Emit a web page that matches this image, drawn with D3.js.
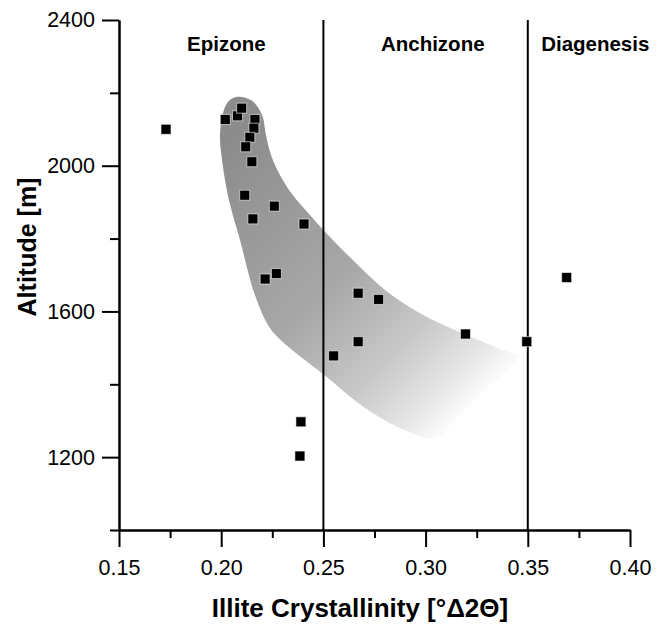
<!DOCTYPE html>
<html>
<head>
<meta charset="utf-8">
<script src="https://cdn.jsdelivr.net/npm/d3@7"></script>
<style>
  body { margin: 0; background: #fff; }
  svg { display: block; font-family: "Liberation Sans", Arial, sans-serif; }
  .axis path, .axis line { stroke: #000; stroke-width: 2; }
  .axis text { font-size: 21.5px; fill: #000; }
  .zone-label { font-size: 20.5px; font-weight: bold; }
  .axis-title { font-weight: bold; }
</style>
</head>
<body>
<div id="chart"></div>
<script>
// Illite crystallinity vs altitude

// sample values: crystallinity [°Δ2Θ] and altitude [m]
const crystallinity = [0.173, 0.202, 0.208, 0.210, 0.2165, 0.216, 0.214, 0.212, 0.215,
    0.2115, 0.226, 0.2155, 0.2405, 0.227, 0.2215, 0.267, 0.277, 0.3195, 0.3495,
    0.267, 0.255, 0.369, 0.239, 0.2385];
const altitude = [2100, 2127, 2137, 2158, 2127, 2103, 2078, 2052, 2011,
    1919, 1889, 1854, 1840, 1704, 1689, 1650, 1633, 1538, 1517,
    1517, 1478, 1693, 1297, 1203];

// shaded trend envelope outline (clockwise from the top)
const envelopeX = [0.2077, 0.2151, 0.2200, 0.2219, 0.2244, 0.2288, 0.2351, 0.2434, 0.2532,
    0.2655, 0.2801, 0.2973, 0.3168, 0.3364, 0.3447, 0.3300, 0.3154, 0.3046, 0.2899,
    0.2704, 0.2498, 0.2337, 0.2239, 0.2165, 0.2092, 0.2038, 0.2004, 0.1994, 0.2009, 0.2033];
const envelopeY = [2189, 2178, 2139, 2084, 2029, 1974, 1919, 1865, 1804,
    1735, 1659, 1595, 1543, 1497, 1475, 1389, 1307, 1252, 1274,
    1335, 1428, 1499, 1554, 1645, 1796, 1906, 2016, 2084, 2145, 2175];

// zone boundaries and names
const boundaries = [0.25, 0.35];
const zoneNames = ["Epizone", "Anchizone", "Diagenesis"];
const zoneCenters = [0.2025, 0.3035, 0.383];

// ticks
const xMajorTicks = [0.15, 0.20, 0.25, 0.30, 0.35, 0.40];
const xMinorTicks = [0.175, 0.225, 0.275, 0.325, 0.375];
const yMajorTicks = [1200, 1600, 2000, 2400];
const yMinorTicks = [1000, 1400, 1800, 2200];

const width = 669;
const height = 625;
const margin = { top: 20, right: 39, bottom: 95, left: 119 };

const svg = d3.select("#chart").append("svg")
    .attr("width", width)
    .attr("height", height);

const x = d3.scaleLinear()
    .domain([0.15, 0.40])
    .range([margin.left, width - margin.right]);

const y = d3.scaleLinear()
    .domain([1000, 2400])
    .range([height - margin.bottom, margin.top]);

// gradient for the envelope, fading out towards the lower right
const defs = svg.append("defs");
const grad = defs.append("linearGradient")
    .attr("id", "envGrad")
    .attr("gradientUnits", "userSpaceOnUse")
    .attr("x1", x(0.2043)).attr("y1", y(2070))
    .attr("x2", x(0.3276)).attr("y2", y(1378));
grad.append("stop").attr("offset", "0%").attr("stop-color", "#8c8c8c");
grad.append("stop").attr("offset", "50%").attr("stop-color", "#a8a8a8");
grad.append("stop").attr("offset", "75%").attr("stop-color", "#c8c8c8");
grad.append("stop").attr("offset", "90%").attr("stop-color", "#e4e4e4");
grad.append("stop").attr("offset", "100%").attr("stop-color", "#fbfbfb");

const envelope = envelopeX.map((v, i) => [v, envelopeY[i]]);
svg.append("path")
    .datum(envelope)
    .attr("fill", "url(#envGrad)")
    .attr("d", d3.line()
        .x(d => x(d[0]))
        .y(d => y(d[1]))
        .curve(d3.curveCatmullRomClosed.alpha(0.5)));

// zone boundary lines
svg.selectAll(".boundary")
    .data(boundaries)
    .enter()
    .append("line")
    .attr("class", "boundary")
    .attr("x1", d => x(d)).attr("x2", d => x(d))
    .attr("y1", y(2400)).attr("y2", y(1000))
    .attr("stroke", "#000")
    .attr("stroke-width", 2);

// zone labels
svg.selectAll(".zone-label")
    .data(zoneNames)
    .enter()
    .append("text")
    .attr("class", "zone-label")
    .attr("x", (d, i) => x(zoneCenters[i]))
    .attr("y", margin.top + 31)
    .attr("text-anchor", "middle")
    .text(d => d);

// axes
svg.append("g")
    .attr("class", "axis")
    .attr("transform", `translate(${margin.left},0)`)
    .call(d3.axisLeft(y).tickValues(yMinorTicks).tickSize(9).tickSizeOuter(0).tickFormat(""));

svg.append("g")
    .attr("class", "axis")
    .attr("transform", `translate(${margin.left},0)`)
    .call(d3.axisLeft(y).tickValues(yMajorTicks).tickSize(17).tickSizeOuter(0).tickPadding(7)
        .tickFormat(d3.format("d")));

svg.append("g")
    .attr("class", "axis")
    .attr("transform", `translate(0,${height - margin.bottom})`)
    .call(d3.axisBottom(x).tickValues(xMinorTicks).tickSize(8).tickSizeOuter(0).tickFormat(""));

svg.append("g")
    .attr("class", "axis")
    .attr("transform", `translate(0,${height - margin.bottom})`)
    .call(d3.axisBottom(x).tickValues(xMajorTicks).tickSize(17).tickSizeOuter(0).tickPadding(13)
        .tickFormat(d3.format(".2f")));

// data squares with a thin light halo
const s = 10;
svg.selectAll(".pt")
    .data(crystallinity.map((v, i) => ({ ic: v, alt: altitude[i] })))
    .enter()
    .append("rect")
    .attr("class", "pt")
    .attr("x", d => x(d.ic) - s / 2)
    .attr("y", d => y(d.alt) - s / 2)
    .attr("width", s)
    .attr("height", s)
    .attr("fill", "#000")
    .attr("stroke", "#fff")
    .attr("stroke-opacity", 0.6)
    .attr("stroke-width", 1);

// axis titles
svg.append("text")
    .attr("class", "axis-title")
    .attr("transform", "translate(36,247) rotate(-90)")
    .attr("text-anchor", "middle")
    .style("font-size", "25px")
    .text("Altitude [m]");

svg.append("text")
    .attr("class", "axis-title")
    .attr("x", 360)
    .attr("y", 617)
    .attr("text-anchor", "middle")
    .style("font-size", "26px")
    .text("Illite Crystallinity [°Δ2Θ]");
</script>
</body>
</html>
